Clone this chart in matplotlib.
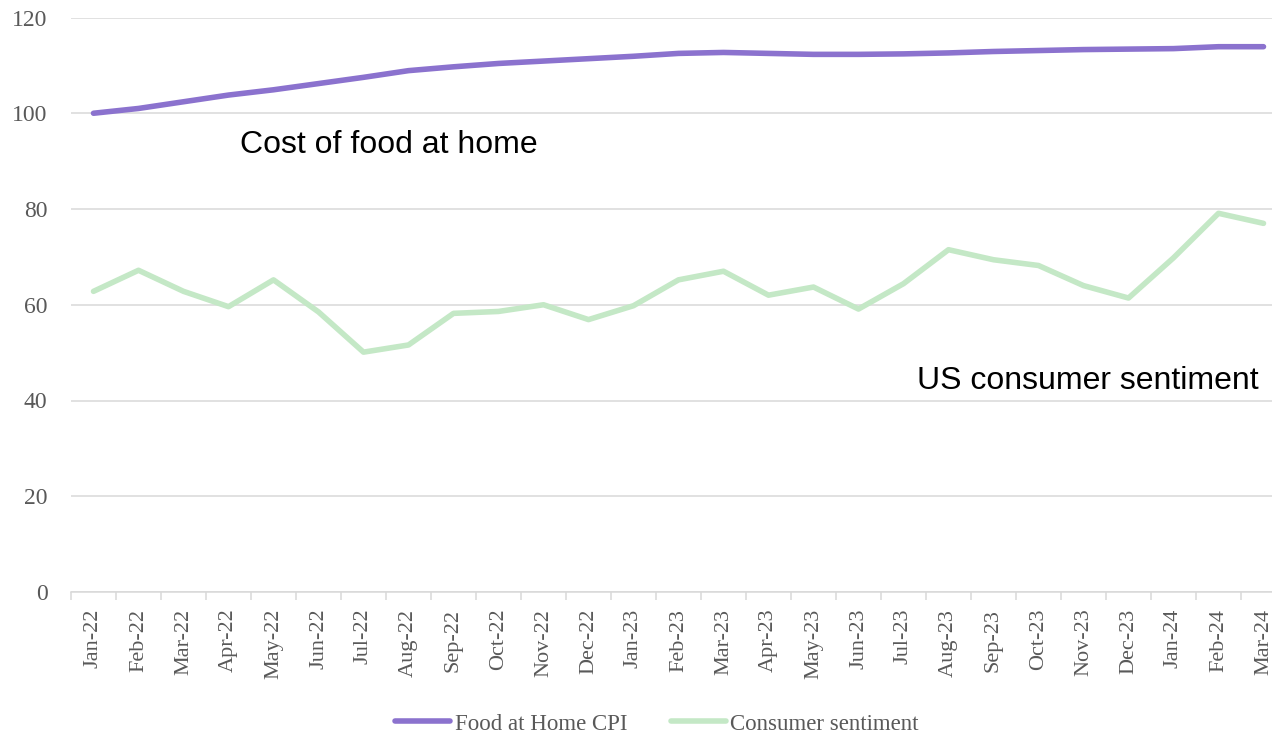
import numpy as np
import matplotlib.pyplot as plt

# data
months = ["Jan-22", "Feb-22", "Mar-22", "Apr-22", "May-22", "Jun-22", "Jul-22",
          "Aug-22", "Sep-22", "Oct-22", "Nov-22", "Dec-22", "Jan-23", "Feb-23",
          "Mar-23", "Apr-23", "May-23", "Jun-23", "Jul-23", "Aug-23", "Sep-23",
          "Oct-23", "Nov-23", "Dec-23", "Jan-24", "Feb-24", "Mar-24"]
food_cpi = [100.0, 101.0, 102.4, 103.8, 104.9, 106.2, 107.5, 108.9, 109.7, 110.4,
            110.9, 111.4, 111.9, 112.5, 112.7, 112.5, 112.3, 112.3, 112.4, 112.6,
            112.9, 113.1, 113.3, 113.4, 113.5, 113.9, 113.9]
sentiment = [62.8, 67.2, 62.8, 59.6, 65.2, 58.5, 50.1, 51.6, 58.2, 58.6, 60.0,
             56.9, 59.8, 65.2, 67.0, 62.0, 63.7, 59.1, 64.4, 71.5, 69.4, 68.2,
             64.0, 61.4, 69.8, 79.1, 77.0]
y_ticks = [0, 20, 40, 60, 80, 100, 120]

W, H = 1272, 737
fig = plt.figure(figsize=(W / 100, H / 100), dpi=100)
# axis runs a little past the right edge, like the original
ax = fig.add_axes([71 / W, 145 / H, 1215 / W, 574.5 / H])

x = np.arange(len(months))
l1, = ax.plot(x, food_cpi, color="#8B72CE", lw=4, solid_capstyle="round",
              label="Food at Home CPI", zorder=3)
l2, = ax.plot(x, sentiment, color="#C4E8C6", lw=4, solid_capstyle="round",
              label="Consumer sentiment", zorder=3)

ax.set_xlim(-0.5, len(months) - 0.5)
ax.set_ylim(0, 120)
ax.set_yticks(y_ticks)
ax.grid(axis="y", color="#D9D9D9", lw=1.1)
ax.set_axisbelow(True)

for s in ["top", "right", "left"]:
    ax.spines[s].set_visible(False)
ax.spines["bottom"].set_color("#D9D9D9")
ax.spines["bottom"].set_linewidth(1.1)

ax.set_xticks(np.arange(len(months) + 1) - 0.5)
ax.set_xticklabels([])
ax.set_xticks(x, minor=True)
ax.set_xticklabels(months, minor=True, rotation=90, fontsize=16,
                   family="Liberation Serif", color="#595959")
ax.tick_params(axis="x", which="major", length=6, width=1.1, color="#D9D9D9")
ax.tick_params(axis="x", which="minor", length=0, pad=12)
ax.tick_params(axis="y", length=0, pad=17, labelsize=17, labelcolor="#595959")
for t in ax.get_yticklabels():
    t.set_family("Liberation Serif")

ax.text(3.26, 91.8, "Cost of food at home", fontsize=23, family="Liberation Sans",
        va="baseline", ha="left")
ax.text(18.3, 42.5, "US consumer sentiment", fontsize=23, family="Liberation Sans",
        va="baseline", ha="left")

fig.legend(handles=[l1, l2], loc="center", bbox_to_anchor=(657 / W, 1 - 724 / H),
           ncol=2, frameon=False, handlelength=2.4, handletextpad=0.2,
           columnspacing=1.9, prop={"family": "Liberation Serif", "size": 16.5},
           labelcolor="#595959")

fig.savefig("out.png", dpi=100)
